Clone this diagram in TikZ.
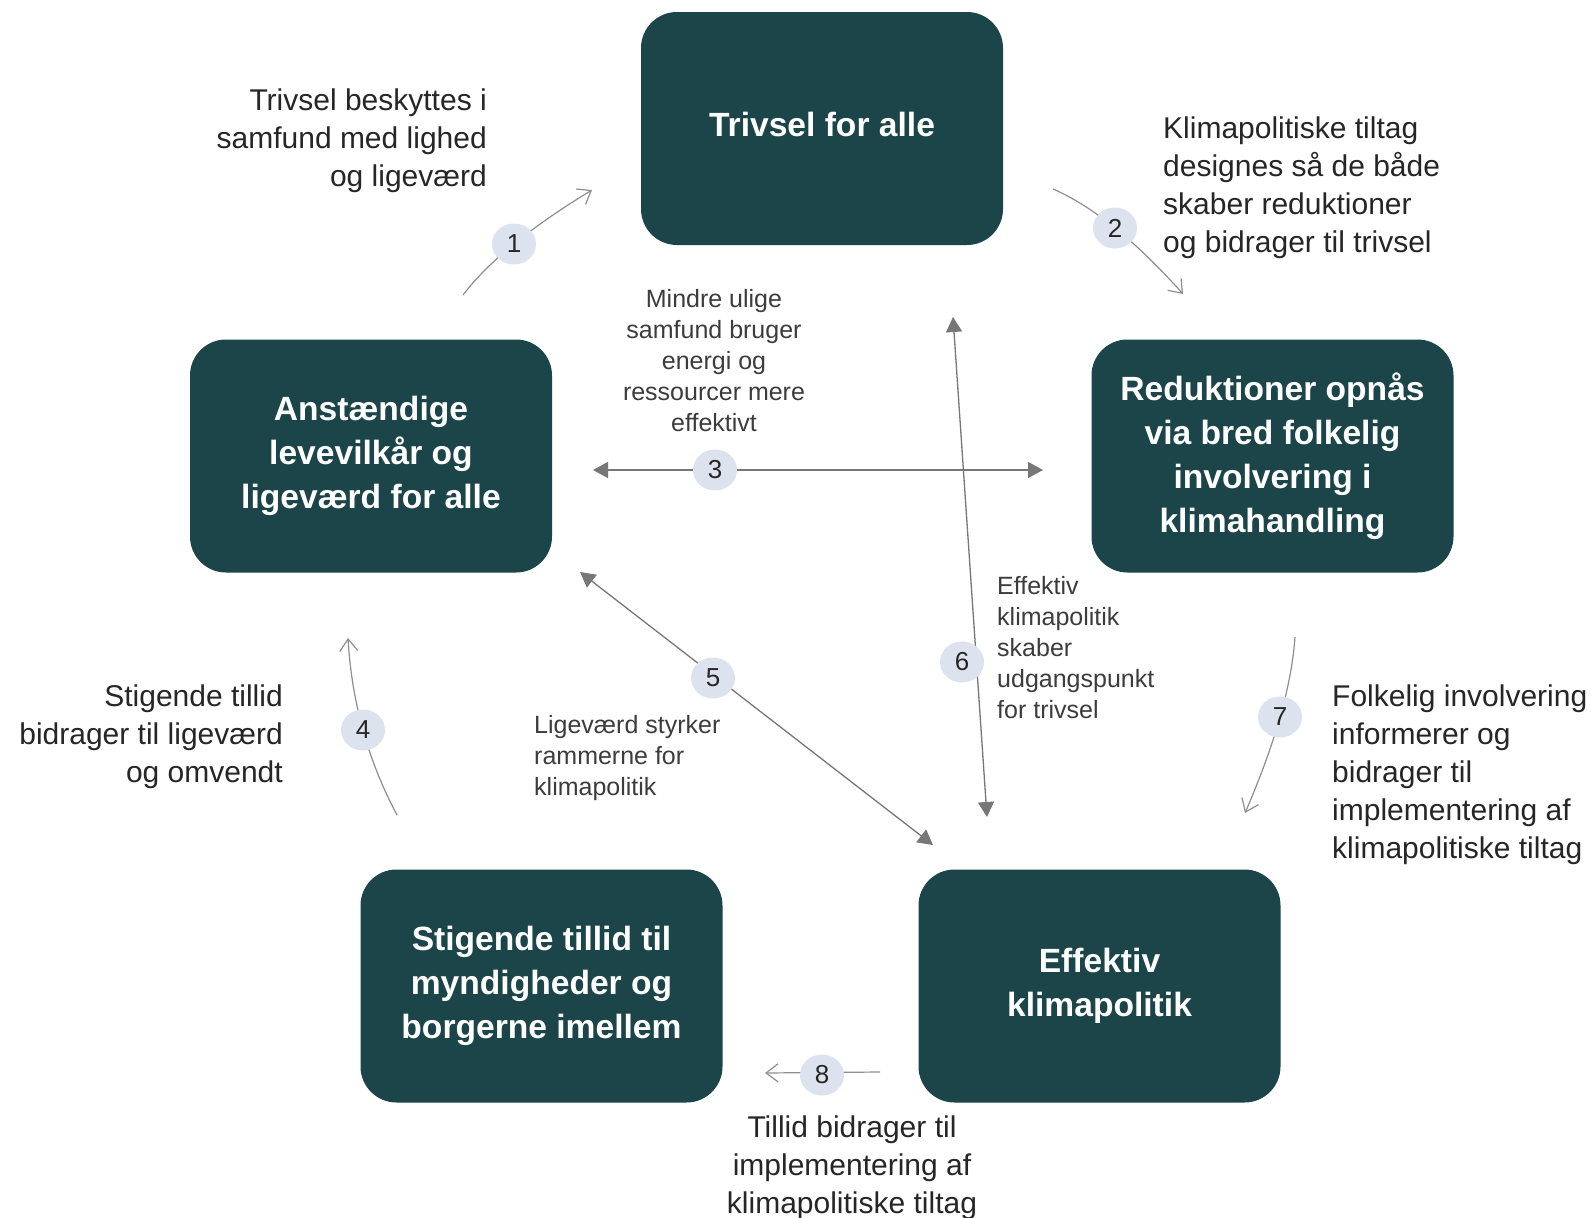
\documentclass[tikz,border=0pt]{standalone}
\usepackage{fontspec}
\setmainfont{Liberation Sans}
\usetikzlibrary{arrows.meta,shapes.geometric}
\definecolor{boxc}{HTML}{1B4548}
\definecolor{numc}{HTML}{DCE3EE}
\definecolor{arrc}{HTML}{8E8E8E}
\definecolor{arrd}{HTML}{777777}
\definecolor{txtc}{HTML}{262626}
\tikzset{
  boxnode/.style={fill=boxc, rounded corners=36pt, minimum width=362pt, minimum height=233pt,
    text=white, font=\bfseries\fontsize{33.6}{44}\selectfont, align=center, inner sep=0pt},
  numnode/.style={ellipse, fill=numc, minimum width=44pt, minimum height=41pt, inner sep=0pt,
    text=black!85, font=\fontsize{26}{26}\selectfont},
  biglbl/.style={text=txtc, font=\fontsize{30}{38}\selectfont, inner sep=0pt},
  midlbl/.style={text=txtc!90, font=\fontsize{25}{31}\selectfont, inner sep=0pt},
  openarr/.style={draw=arrc, line width=1.2pt, -{Straight Barb[length=12pt,width=18pt,line width=1.2pt]}},
  fillarr/.style={draw=arrd, line width=1.3pt, {Triangle[length=15pt,width=16pt]}-{Triangle[length=15pt,width=16pt]}}
}
\begin{document}
\begin{tikzpicture}[x=1pt,y=-1pt]
\useasboundingbox[fill=white] (0,0) rectangle (1591,1218);

% boxes
\node[boxnode] (trivsel) at (822,128.5) {\raisebox{8pt}{Trivsel for alle}};
\node[boxnode] (anst) at (371,456) {Anstændige\\levevilkår og\\ligeværd for alle};
\node[boxnode] (reduk) at (1272.5,456) {Reduktioner opnås\\via bred folkelig\\involvering i\\klimahandling};
\node[boxnode] (stig) at (541.5,986) {Stigende tillid til\\myndigheder og\\borgerne imellem};
\node[boxnode] (eff) at (1099.5,986) {Effektiv\\klimapolitik};

% labels
\node[biglbl, anchor=east, align=right] (l1) at (487,141) {Trivsel beskyttes i\\samfund med lighed\\og ligeværd};
\node[biglbl, anchor=west, align=left] (l2) at (1163,188) {Klimapolitiske tiltag\\designes så de både\\skaber reduktioner\\og bidrager til trivsel};
\node[midlbl, align=center] (l3) at (714,361) {Mindre ulige\\samfund bruger\\energi og\\ressourcer mere\\effektivt};
\node[biglbl, anchor=east, align=right] (l4) at (283,737) {Stigende tillid\\bidrager til ligeværd\\og omvendt};
\node[midlbl, anchor=west, align=left] (l5) at (534,758) {Ligeværd styrker\\rammerne for\\klimapolitik};
\node[midlbl, anchor=west, align=left] (l6) at (997,648) {Effektiv\\klimapolitik\\skaber\\udgangspunkt\\for trivsel};
\node[biglbl, anchor=west, align=left] (l7) at (1332,775) {Folkelig involvering\\informerer og\\bidrager til\\implementering af\\klimapolitiske tiltag};
\node[biglbl, align=center] (l8) at (852,1168) {Tillid bidrager til\\implementering af\\klimapolitiske tiltag};

% arrow end points
\coordinate (a1s) at (463,295); \coordinate (a1e) at (592,190);
\coordinate (a2s) at (1053,189); \coordinate (a2e) at (1183,294);
\coordinate (a3s) at (593,470); \coordinate (a3e) at (1043,470);
\coordinate (a4s) at (397,815); \coordinate (a4e) at (348,638);
\coordinate (a5s) at (580,572); \coordinate (a5e) at (933,845);
\coordinate (a6s) at (953,317); \coordinate (a6e) at (987,817);
\coordinate (a7s) at (1295,637); \coordinate (a7e) at (1245,813);
\coordinate (a8s) at (880,1072); \coordinate (a8e) at (765,1073);

% arrows
\draw[openarr] (a1s) .. controls (488,262) and (531,227) .. (a1e);
\draw[openarr] (a2s) .. controls (1092.3,206) and (1135.7,241) .. (a2e);
\draw[fillarr] (a3s) -- (a3e);
\draw[openarr] (a4s) .. controls (368,760.7) and (351.7,701.7) .. (a4e);
\draw[fillarr] (a5s) -- (a5e);
\draw[fillarr] (a6s) -- (a6e);
\draw[openarr] (a7s) .. controls (1291.7,685) and (1275,743.7) .. (a7e);
\draw[openarr] (a8s) -- (a8e);

% number markers
\node[numnode] (n1) at (514,244) {1};
\node[numnode] (n2) at (1115,228) {2};
\node[numnode] (n3) at (715,470) {3};
\node[numnode] (n4) at (363,730) {4};
\node[numnode] (n5) at (713,678) {5};
\node[numnode] (n6) at (962,662) {6};
\node[numnode] (n7) at (1280,717) {7};
\node[numnode] (n8) at (822,1075) {8};
\end{tikzpicture}
\end{document}
